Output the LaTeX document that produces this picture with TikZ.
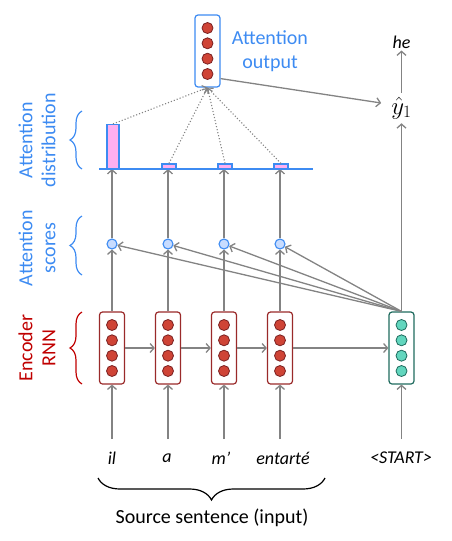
\documentclass[tikz,border=0pt]{standalone}
\usepackage{fontspec}
\setmainfont{Carlito}
\usetikzlibrary{arrows.meta,decorations.pathreplacing,calc}
\definecolor{ablue}{HTML}{3D8BF2}
\definecolor{ared}{HTML}{C00000}
\definecolor{encb}{HTML}{9A2A2A}
\definecolor{encf}{HTML}{CF4436}
\definecolor{decb}{HTML}{1F6B5E}
\definecolor{decf}{HTML}{62D6BE}
\definecolor{arrg}{HTML}{838383}
\definecolor{pinkf}{HTML}{FFAFF0}
\definecolor{scoref}{HTML}{C8DCFF}
\tikzset{
  arr/.style={draw=arrg, line width=1.3pt, -{Straight Barb[length=4pt,width=9pt]}},
  dotarr/.style={draw=arrg, line width=1.1pt, dotted, -{Straight Barb[length=4pt,width=8pt]}},
  encbox/.style={draw=encb, line width=1.2pt, rounded corners=3pt, fill=white, minimum width=25pt, minimum height=72pt, inner sep=0pt},
  decbox/.style={draw=decb, line width=1.2pt, rounded corners=3pt, fill=white, minimum width=25pt, minimum height=72pt, inner sep=0pt},
  aobox/.style={draw=ablue, line width=1.2pt, rounded corners=3pt, fill=white, minimum width=25pt, minimum height=72pt, inner sep=0pt},
  encdot/.style={circle, draw=encb!80!black, line width=0.8pt, fill=encf, minimum size=11pt, inner sep=0pt},
  decdot/.style={circle, draw=decb, line width=0.8pt, fill=decf, minimum size=11pt, inner sep=0pt},
  score/.style={circle, draw=ablue, line width=1.1pt, fill=scoref, minimum size=10pt, inner sep=0pt},
  bar/.style={draw=ablue, line width=1.1pt, fill=pinkf},
  word/.style={font=\fontsize{18}{20}\selectfont\itshape, inner sep=2pt},
  sidelab/.style={rotate=90, align=center, font=\fontsize{20}{23}\selectfont},
  brc/.style={decorate, decoration={brace, amplitude=12pt}, line width=1.2pt}
}
\begin{document}
\begin{tikzpicture}[x=1pt,y=-1pt]
\useasboundingbox (0,0) rectangle (452,541);
% encoder boxes
\foreach \i/\x in {1/112,2/168,3/224,4/280}{
  \node[encbox] (e\i) at (\x,348) {};
  \foreach \dy in {-23,-7.7,7.7,23} \node[encdot] at (\x,348+\dy) {};
}
\node[decbox] (d) at (401.5,348) {};
\foreach \dy in {-23,-7.7,7.7,23} \node[decdot] at (401.5,348+\dy) {};
% attention output
\node[aobox] (ao) at (207.5,51) {};
\foreach \dy in {-23,-7.7,7.7,23} \node[encdot] at (207.5,51+\dy) {};
\node[align=center, text=ablue, font=\fontsize{20}{24}\selectfont] (aol) at (270,51) {Attention\\output};
% words
\node[word] (w1) at (112,458) {il};
\node[word] (w2) at (167,458) {a};
\node[word] (w3) at (221,458) {m’};
\node[word] (w4) at (283,458) {entarté};
\node[word] (st) at (401,458) {<START>};
\foreach \i in {1,...,4}{
  \coordinate (wt\i) at (e\i |- 0,439);
  \draw[arr] (wt\i) -- (e\i.south);
}
\coordinate (stt) at (401.5,439);
\draw[arr] (stt) -- (d.south);
% encoder horizontal arrows
\draw[arr] (e1.east) -- (e2.west);
\draw[arr] (e2.east) -- (e3.west);
\draw[arr] (e3.east) -- (e4.west);
\draw[arr] (e4.east) -- (d.west);
% scores
\foreach \i/\x in {1/112,2/168,3/224,4/280}{
  \node[score] (s\i) at (\x,244) {};
  \draw[arr] (e\i.north) -- (s\i);
  \coordinate (bl\i) at (\x,169);
  \draw[arr] (s\i) -- (bl\i);
}
\foreach \i in {1,...,4} \draw[arr] (d.north) -- (s\i);
% distribution
\node[bar, minimum width=12pt, minimum height=44pt, inner sep=0pt, anchor=south] (b1) at (113,169) {};
\node[bar, minimum width=14pt, minimum height=4.5pt, inner sep=0pt, anchor=south] (b2) at (169,169) {};
\node[bar, minimum width=14pt, minimum height=4.5pt, inner sep=0pt, anchor=south] (b3) at (225,169) {};
\node[bar, minimum width=14pt, minimum height=4.5pt, inner sep=0pt, anchor=south] (b4) at (281,169) {};
\coordinate (bls) at (99,169);
\coordinate (ble) at (313,169);
\draw[draw=ablue, line width=1.3pt] (bls) -- (ble);
\foreach \i in {1,...,4} \draw[dotarr] (b\i.north) -- (ao.south);
% output
\node[font=\fontsize{25}{28}\selectfont, inner sep=4pt] (yh) at (401.5,108) {$\hat{y}_1$};
\node[word] (he) at (401.5,42) {he};
\draw[arr] (d.north) -- (yh.south);
\draw[arr] (yh.north) -- (he.south);
\draw[arr] ([yshift=9pt]ao.south east) -- ($(yh.west)+(-6,-5)$);
% side labels
\node[sidelab, text=ablue] (l1) at (37,140) {Attention\\distribution};
\node[sidelab, text=ablue] (l2) at (37,248) {Attention\\scores};
\node[sidelab, text=ared] (l3) at (37,348) {Encoder\\RNN};
\coordinate (br1a) at (82,169); \coordinate (br1b) at (82,111);
\coordinate (br2a) at (82,275); \coordinate (br2b) at (82,216);
\coordinate (br3a) at (82,384); \coordinate (br3b) at (82,312);
\draw[brc, draw=ablue] (br1a) -- (br1b);
\draw[brc, draw=ablue] (br2a) -- (br2b);
\draw[brc, draw=ared] (br3a) -- (br3b);
% bottom brace
\coordinate (bb1) at (325,478); \coordinate (bb2) at (98,478);
\draw[decorate, decoration={brace, amplitude=22pt}, line width=1.2pt] (bb1) -- (bb2);
\node[font=\fontsize{20}{22}\selectfont] (src) at (212,518) {Source sentence (input)};
\end{tikzpicture}
\end{document}
